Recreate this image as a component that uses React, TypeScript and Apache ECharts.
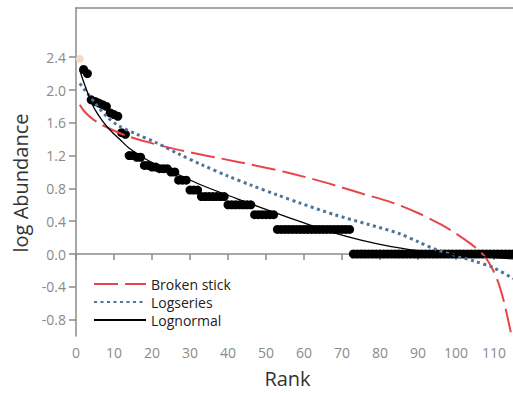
import React, { useEffect, useRef } from "react";
import * as echarts from "echarts";

// Observed log abundance by rank (rank = index + 2), rank 1 shown separately
const observedFromRank2 = [
  2.25, 2.2, 1.88, 1.86, 1.84, 1.82, 1.8, 1.72, 1.7, 1.68,
  1.48, 1.46, 1.2, 1.2, 1.18, 1.18, 1.08, 1.08, 1.06, 1.06,
  1.04, 1.04, 1.04, 1.0, 1.0, 0.9, 0.9, 0.9, 0.78, 0.78,
  0.78, 0.7, 0.7, 0.7, 0.7, 0.7, 0.7, 0.7, 0.6, 0.6,
  0.6, 0.6, 0.6, 0.6, 0.6, 0.48, 0.48, 0.48, 0.48, 0.48,
  0.48, 0.3, 0.3, 0.3, 0.3, 0.3, 0.3, 0.3, 0.3, 0.3,
  0.3, 0.3, 0.3, 0.3, 0.3, 0.3, 0.3, 0.3, 0.3, 0.3,
  0.3, 0, 0, 0, 0, 0, 0, 0, 0, 0,
  0, 0, 0, 0, 0, 0, 0, 0, 0, 0,
  0, 0, 0, 0, 0, 0, 0, 0, 0, 0,
  0, 0, 0, 0, 0, 0, 0, 0, 0, 0,
  0, 0, 0, 0,
];
const firstRankPoint = [[1, 2.38]];

const brokenStick = [
  [1, 1.82], [2, 1.75], [4, 1.66], [7, 1.57], [14, 1.43], [27, 1.27],
  [43, 1.12], [55, 1.0], [65, 0.88], [75, 0.74], [83, 0.63], [90, 0.5],
  [96, 0.36], [100, 0.25], [104, 0.12], [107, 0.0], [109, -0.13],
  [111, -0.33], [112.5, -0.56], [113.7, -0.8], [115, -1.08],
];

const logSeries = [
  [1, 2.08], [2, 2.02], [5, 1.84], [8, 1.68], [11, 1.57], [16, 1.46],
  [21, 1.36], [27, 1.22], [33, 1.09], [40, 0.95], [46, 0.84], [53, 0.72],
  [59, 0.62], [68, 0.48], [77, 0.36], [85, 0.25], [90, 0.15], [95, 0.05],
  [100, -0.02], [105, -0.09], [110, -0.17], [115, -0.3],
];

const logNormal = [
  [1, 2.24], [2, 2.1], [3.6, 1.9], [5, 1.76], [7, 1.62], [9, 1.51],
  [11.5, 1.4], [14, 1.29], [19, 1.14], [26, 0.99], [32, 0.86], [38, 0.75],
  [45, 0.63], [52, 0.51], [60, 0.38], [67, 0.27], [75, 0.17], [83, 0.09],
  [90, 0.04], [97, 0.0], [106, -0.03], [115, -0.06],
];

const xTicks = [0, 10, 20, 30, 40, 50, 60, 70, 80, 90, 100, 110];
const yTicks = [-0.8, -0.4, 0, 0.4, 0.8, 1.2, 1.6, 2.0, 2.4];
const legendNames = ["Broken stick", "Logseries", "Lognormal"];

const FONT = "Open Sans";
const AXIS_GRAY = "#8a8a8a";

export default function App() {
  const ref = useRef<HTMLDivElement>(null);
  useEffect(() => {
    if (!ref.current) return;
    const chart = echarts.init(ref.current, null, { renderer: "svg" });
    const observed = observedFromRank2.map((v, i) => [i + 2, v]);
    chart.setOption({
      animation: false,
      backgroundColor: "#ffffff",
      grid: { left: 76, right: 0, top: 8, bottom: 51 },
      legend: {
        data: legendNames,
        orient: "vertical",
        left: 88,
        top: 272,
        itemWidth: 52,
        itemHeight: 12,
        itemGap: 4,
        itemStyle: { opacity: 0 },
        textStyle: { fontFamily: FONT, fontSize: 14, color: "#222" },
      },
      xAxis: [
        {
          type: "value",
          min: 0,
          max: 115,
          interval: 10,
          position: "bottom",
          name: "Rank",
          nameLocation: "middle",
          nameGap: 32,
          nameTextStyle: { fontFamily: FONT, fontSize: 20, color: "#333", padding: [0, 14, 0, 0] },
          axisLine: { show: true, lineStyle: { color: AXIS_GRAY, width: 1.5 } },
          axisTick: { show: true, length: 6, lineStyle: { color: AXIS_GRAY, width: 1.5 }, customValues: xTicks },
          axisLabel: { fontFamily: FONT, fontSize: 14, color: "#8a8a8a", margin: 9, customValues: xTicks },
          splitLine: { show: false },
        },
        {
          type: "value",
          min: 0,
          max: 115,
          position: "top",
          axisLine: { show: true, lineStyle: { color: AXIS_GRAY, width: 1.5 } },
          axisTick: { show: false },
          axisLabel: { show: false },
          splitLine: { show: false },
        },
      ],
      yAxis: {
        type: "value",
        min: -1.0,
        max: 3.0,
        name: "log Abundance",
        nameLocation: "middle",
        nameGap: 46,
        nameTextStyle: { fontFamily: FONT, fontSize: 20, color: "#333", padding: [0, 22, 0, 0] },
        axisLine: { show: true, lineStyle: { color: AXIS_GRAY, width: 1.5 } },
        axisTick: { show: true, length: 7, lineStyle: { color: AXIS_GRAY, width: 1.5 }, customValues: yTicks },
        axisLabel: {
          fontFamily: FONT,
          fontSize: 14,
          color: "#8a8a8a",
          margin: 10,
          customValues: yTicks,
          formatter: (v: number) => v.toFixed(1),
        },
        splitLine: { show: false },
      },
      series: [
        {
          type: "scatter",
          name: "Observed",
          data: observed,
          symbolSize: 9,
          itemStyle: { color: "#000", opacity: 1 },
          z: 2,
        },
        {
          type: "scatter",
          name: "First",
          data: firstRankPoint,
          symbolSize: 8,
          itemStyle: { color: "#f0dcc6", opacity: 1 },
          z: 2,
        },
        {
          type: "line",
          name: "Broken stick",
          data: brokenStick,
          symbol: "none",
          smooth: 0.3,
          lineStyle: { color: "#e8454b", width: 2, type: [24, 7] },
          itemStyle: { color: "#e8454b" },
          z: 3,
        },
        {
          type: "line",
          name: "Logseries",
          data: logSeries,
          symbol: "none",
          smooth: 0.3,
          lineStyle: { color: "#4d7499", width: 3, type: [3, 3.5] },
          itemStyle: { color: "#4d7499" },
          z: 3,
        },
        {
          type: "line",
          name: "Lognormal",
          data: logNormal,
          symbol: "none",
          smooth: 0.3,
          lineStyle: { color: "#000", width: 1.3 },
          itemStyle: { color: "#000" },
          z: 4,
        },
      ],
    });
    return () => chart.dispose();
  }, []);
  return (
    <div
      ref={ref}
      style={{ position: "fixed", left: 0, top: 0, width: 513, height: 393, background: "#fff" }}
    />
  );
}
